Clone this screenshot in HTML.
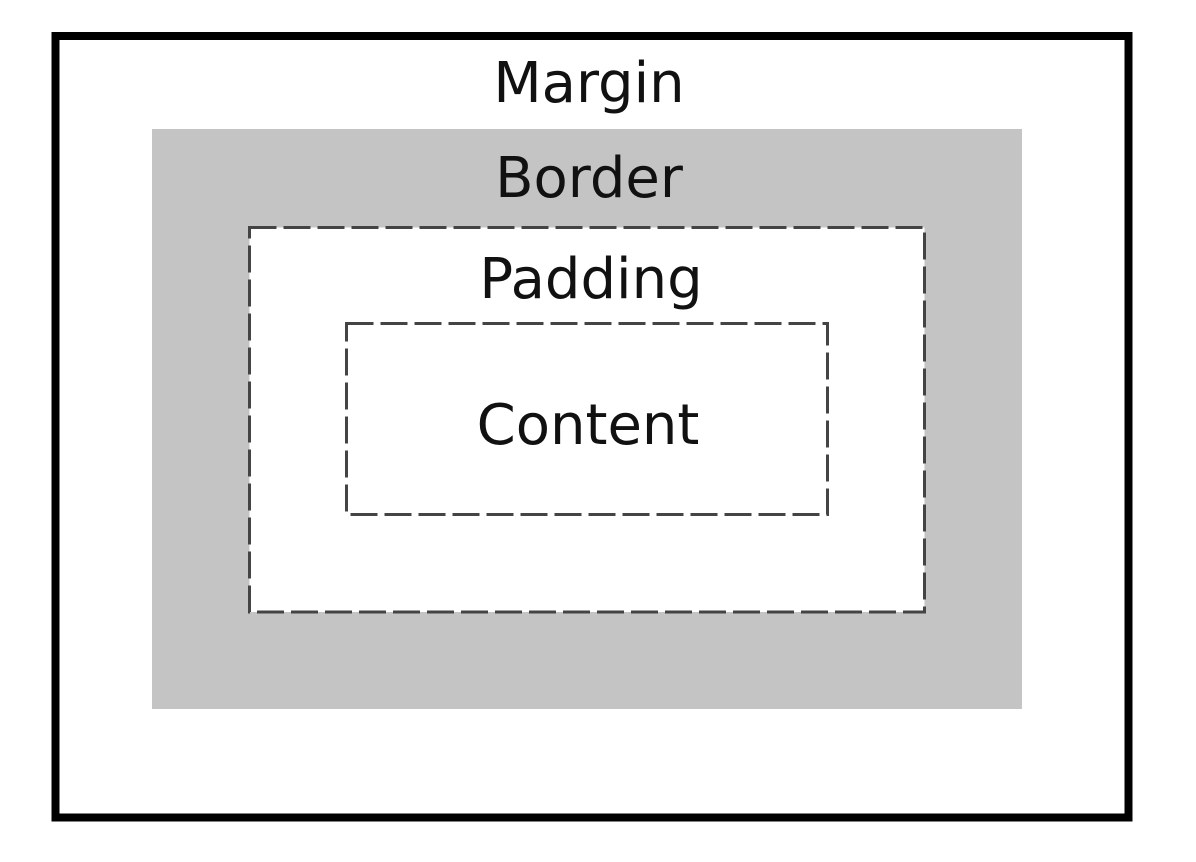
<!DOCTYPE html>
<html><head><meta charset="utf-8"><style>
html,body{margin:0;padding:0;background:#fff;}
svg{display:block;}
text{font-family:"DejaVu Sans","Liberation Sans",sans-serif;font-size:56px;fill:#111;text-anchor:middle;}
</style></head><body>
<svg width="1196" height="862" viewBox="0 0 1196 862">
<rect x="0" y="0" width="1196" height="862" fill="#fff"/>
<rect x="55.5" y="36" width="1073" height="781.5" fill="#fff" stroke="#000" stroke-width="8"/>
<rect x="152" y="129" width="870" height="580" fill="#c4c4c4"/>
<rect x="249.5" y="227.5" width="675" height="384.5" fill="#fff" stroke="#444" stroke-width="3" stroke-dasharray="27 7"/>
<rect x="346.5" y="323.5" width="481" height="191" fill="#fff" stroke="#444" stroke-width="3" stroke-dasharray="27 7"/>
<text x="589" y="102">Margin</text>
<text x="589" y="197">Border</text>
<text x="591" y="298">Padding</text>
<text x="588" y="444">Content</text>
</svg>
</body></html>
